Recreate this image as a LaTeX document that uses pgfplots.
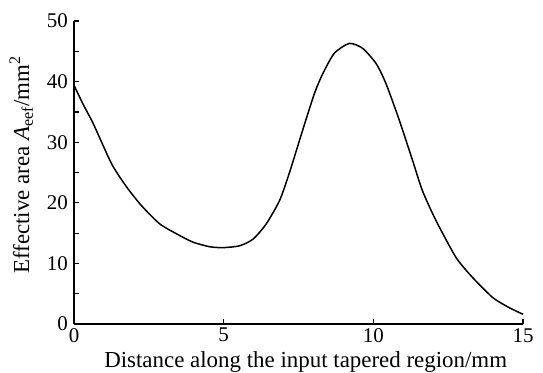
\documentclass[border=0pt]{standalone}
\usepackage{fontspec}
\setmainfont{Liberation Serif}
\usepackage{pgfplots}
\pgfplotsset{compat=1.18}
\begin{document}
\begin{tikzpicture}
\begin{axis}[
  scale only axis,
  width=449bp, height=303bp,
  xmin=0, xmax=15, ymin=0, ymax=50,
  axis x line*=bottom, axis y line*=left,
  axis line style={-, line width=1.3pt},
  xtick={0,5,10,15}, ytick={0,10,20,30,40,50},
  minor ytick={5,15,25,35,45},
  tick align=inside,
  major tick length=5.5bp, minor tick length=5.5bp,
  tick style={line width=1.2pt, black},
  /pgf/number format/assume math mode=true,
  ticklabel style={font=\fontsize{21}{21}\selectfont},
  label style={font=\fontsize{23}{25}\selectfont},
  xlabel={Distance along the input tapered region/mm},
  ylabel={Effective area \textit{A}\textsubscript{eef}/mm\textsuperscript{2}},
  xlabel style={at={(axis description cs:0.516,-0.142)}, anchor=base},
  ylabel style={at={(axis description cs:-0.1,0.525)}, anchor=base},
  xticklabel style={inner sep=2bp, yshift=-2bp},
  yticklabel style={inner sep=2bp, xshift=-4bp},
  clip=false,
]
\addplot[black, line width=1.5pt, smooth, tension=0.4] coordinates {
 (0,39.4) (0.3,36.3) (0.64,33.1) (1.26,26.4) (1.76,22.6) (2.26,19.5)
 (2.87,16.5) (3.53,14.6) (3.98,13.5) (4.53,12.75) (4.98,12.6) (5.53,12.9)
 (5.98,14.0) (6.42,16.5) (6.87,20.4) (7.2,25.0) (7.64,32.0) (8.03,38.0)
 (8.31,41.3) (8.7,44.7) (9.2,46.3) (9.64,45.5) (10.09,43.0) (10.42,39.7)
 (10.87,33.6) (11.31,27.0) (11.64,22.0) (12.09,17.1) (12.76,11.0)
 (13.31,7.7) (13.98,4.4) (14.5,2.8) (15,1.6)
};
\end{axis}
\pgfresetboundingbox
\path (-74bp,-49bp) rectangle (469bp,324bp);
\end{tikzpicture}
\end{document}
